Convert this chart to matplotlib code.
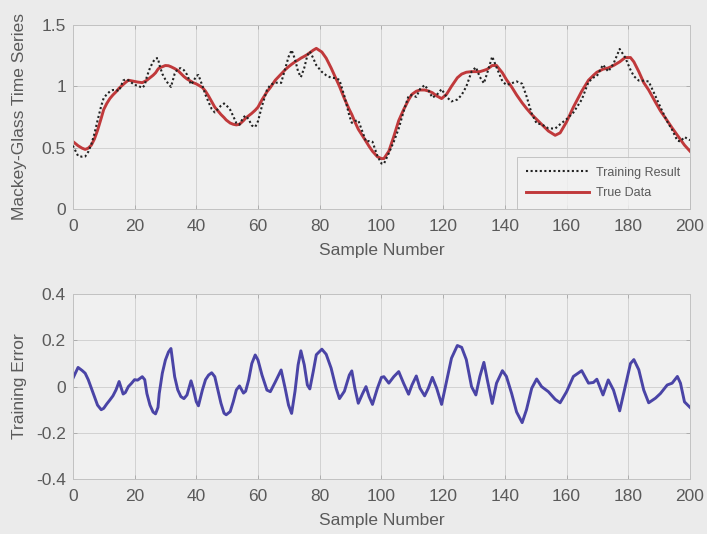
import matplotlib
matplotlib.use("Agg")
import matplotlib.pyplot as plt
import numpy as np

# Sample positions of the training run
sample = [0, 1.7, 3, 4, 5, 6, 7, 8, 9.2, 10, 11, 12, 13, 14, 15, 16.3, 17, 18, 19, 20,
          21, 22.5, 23.3, 24, 25, 26, 26.8, 27.6, 28, 29, 30, 31, 31.8, 33, 34, 35, 36, 37,
          38.3, 39, 40, 40.7, 42, 43, 44, 45, 46, 47, 48, 49, 49.7, 51, 52, 53, 54, 55.3,
          56, 57, 58, 59.1, 60, 61.3, 62.9, 64, 65.6, 67.5, 68.8, 69.9, 70.9, 72, 73, 73.9,
          75, 76, 76.8, 77.9, 78.9, 80.7, 82.1, 83.7, 85.3, 86.4, 88, 89.6, 90.4, 91.4,
          92.5, 93.9, 95, 96, 97.1, 98.7, 100, 100.8, 102.4, 104, 105.6, 107.2, 108.8,
          109.9, 111.3, 112.5, 114, 115.2, 116.5, 117.9, 119.5, 121.1, 122.7, 124.6, 126,
          127.5, 129.2, 130.6, 131.9, 133.2, 134.3, 135.9, 137.3, 139.2, 140.5, 142.2,
          143.8, 145.6, 147, 148.7, 150.3, 151.9, 154.1, 156.3, 157.9, 160, 162.2, 164.9,
          167.1, 168.7, 169.8, 171.8, 173.5, 175.2, 177.2, 179, 180.7, 181.8, 183.4, 185,
          186.6, 188.8, 190.4, 192.6, 194.2, 195.9, 196.9, 198.2, 200]

# Mackey-Glass target series
true_data = [0.55, 0.515, 0.495, 0.485, 0.495, 0.52, 0.57, 0.64, 0.74, 0.81, 0.86, 0.90,
             0.93, 0.955, 0.985, 1.015, 1.03, 1.05, 1.045, 1.04, 1.035, 1.03, 1.04, 1.05,
             1.07, 1.09, 1.11, 1.14, 1.15, 1.16, 1.17, 1.168, 1.16, 1.145, 1.13, 1.105,
             1.08, 1.06, 1.04, 1.03, 1.02, 1.01, 0.99, 0.96, 0.92, 0.875, 0.83, 0.80, 0.77,
             0.745, 0.725, 0.70, 0.69, 0.685, 0.69, 0.72, 0.74, 0.76, 0.78, 0.805, 0.83,
             0.89, 0.955, 0.99, 1.05, 1.10, 1.135, 1.16, 1.18, 1.20, 1.215, 1.23, 1.245,
             1.26, 1.275, 1.295, 1.31, 1.28, 1.23, 1.15, 1.06, 1.00, 0.90, 0.81, 0.77,
             0.71, 0.65, 0.595, 0.55, 0.51, 0.47, 0.425, 0.41, 0.41, 0.47, 0.59, 0.72,
             0.81, 0.89, 0.935, 0.96, 0.97, 0.97, 0.962, 0.948, 0.922, 0.90, 0.935, 1.00,
             1.07, 1.10, 1.115, 1.12, 1.12, 1.12, 1.13, 1.14, 1.17, 1.17, 1.11, 1.055,
             0.995, 0.93, 0.865, 0.82, 0.77, 0.73, 0.69, 0.635, 0.60, 0.62, 0.71, 0.83,
             0.96, 1.05, 1.09, 1.115, 1.14, 1.15, 1.17, 1.20, 1.235, 1.235, 1.20, 1.12,
             1.03, 0.97, 0.87, 0.80, 0.72, 0.66, 0.60, 0.565, 0.52, 0.47]

# Training error (target minus network output)
training_error = [0.035, 0.083, 0.07, 0.058, 0.03, -0.007, -0.043, -0.08, -0.1, -0.094,
                  -0.075, -0.058, -0.04, -0.014, 0.022, -0.032, -0.026, 0.0, 0.014, 0.03,
                  0.028, 0.043, 0.03, -0.03, -0.08, -0.11, -0.118, -0.09, -0.03, 0.058,
                  0.115, 0.15, 0.165, 0.043, -0.014, -0.043, -0.052, -0.036, 0.025, -0.007,
                  -0.065, -0.083, -0.014, 0.03, 0.05, 0.06, 0.043, -0.014, -0.072, -0.115,
                  -0.122, -0.108, -0.065, -0.014, 0.003, -0.028, -0.02, 0.03, 0.10, 0.137,
                  0.115, 0.05, -0.015, -0.022, 0.02, 0.072, -0.007, -0.08, -0.116, -0.02,
                  0.094, 0.155, 0.094, 0.007, -0.01, 0.065, 0.138, 0.162, 0.14, 0.08,
                  -0.007, -0.052, -0.02, 0.05, 0.068, -0.007, -0.072, -0.03, 0.0, -0.043,
                  -0.077, -0.007, 0.04, 0.043, 0.015, 0.043, 0.065, 0.014, -0.033, 0.007,
                  0.046, -0.007, -0.04, -0.007, 0.04, -0.007, -0.077, 0.022, 0.123, 0.178,
                  0.17, 0.117, 0.0, -0.036, 0.044, 0.105, 0.03, -0.073, 0.015, 0.069,
                  0.044, -0.03, -0.11, -0.156, -0.10, -0.007, 0.033, 0.0, -0.022, -0.055,
                  -0.07, -0.022, 0.044, 0.069, 0.015, 0.018, 0.032, -0.036, 0.029, -0.015,
                  -0.105, 0.0, 0.10, 0.117, 0.073, -0.015, -0.07, -0.05, -0.03, 0.007,
                  0.015, 0.044, 0.015, -0.066, -0.09]

x_ticks = [0, 20, 40, 60, 80, 100, 120, 140, 160, 180, 200]
top_yticks = [0, 0.5, 1, 1.5]
bottom_yticks = [-0.4, -0.2, 0, 0.2, 0.4]

# Network output = target - error
training_result = np.array(true_data) - np.array(training_error)

plt.rcParams["font.family"] = ["Liberation Sans", "DejaVu Sans"]

bg = "#ebebeb"
face = "#f0f0f0"
txt = "#5a5a5a"

fig = plt.figure(figsize=(7.07, 5.34), dpi=100, facecolor=bg)
ax1 = fig.add_axes([0.103, 0.609, 0.873, 0.344], facecolor=face)
ax2 = fig.add_axes([0.103, 0.103, 0.873, 0.346], facecolor=face)

ax1.plot(sample, training_result, color="#222222", lw=1.5, ls=(0, (1, 1.2)),
         label="Training Result", zorder=3)
ax1.plot(sample, true_data, color="#c0393b", lw=2.1, label="True Data", zorder=2)
ax2.plot(sample, training_error, color="#4a44a6", lw=2.1)

for ax, yt, ylim, ylab in ((ax1, top_yticks, (0, 1.5), "Mackey-Glass Time Series"),
                           (ax2, bottom_yticks, (-0.4, 0.4), "Training Error")):
    ax.set_xlim(0, 200)
    ax.set_ylim(*ylim)
    ax.set_xticks(x_ticks)
    ax.set_yticks(yt)
    ax.set_yticklabels([f"{v:g}" for v in yt])
    ax.grid(True, color="#d2d2d2", lw=0.7)
    ax.set_axisbelow(True)
    ax.tick_params(direction="in", top=True, right=True, length=3, width=0.6,
                   colors="#a8a8a8", labelcolor=txt, labelsize=12.5)
    ax.tick_params(axis="x", pad=7)
    ax.tick_params(axis="y", pad=5)
    for s in ax.spines.values():
        s.set_color("#c2c2c2")
        s.set_linewidth(0.7)
    ax.set_xlabel("Sample Number", color=txt, fontsize=12.5, labelpad=7)
    ax.set_ylabel(ylab, color=txt, fontsize=12.5)
    ax.yaxis.set_label_coords(-0.075, 0.5)

leg = ax1.legend(loc="lower right", bbox_to_anchor=(1.0, 0.0), fontsize=9,
                 frameon=True, fancybox=False, handlelength=5.0, handletextpad=0.6,
                 borderpad=0.75, labelspacing=0.7, borderaxespad=0.0)
leg.get_frame().set_edgecolor("#b8b8b8")
leg.get_frame().set_facecolor("#f2f2f2")
leg.get_frame().set_linewidth(0.7)
for t in leg.get_texts():
    t.set_color(txt)

fig.savefig("out.png", dpi=100, facecolor=bg)
